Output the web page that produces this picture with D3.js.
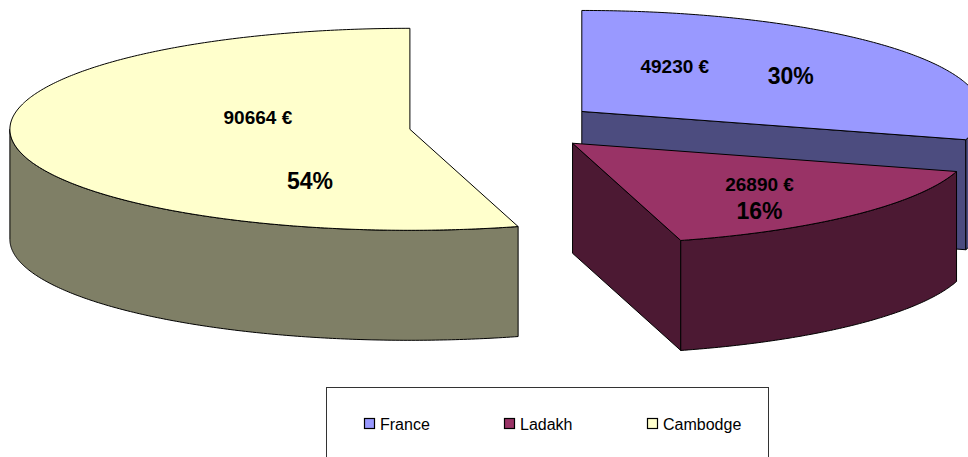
<!DOCTYPE html>
<html>
<head>
<meta charset="utf-8">
<script src="https://cdn.jsdelivr.net/npm/d3@7"></script>
<style>
  body { margin: 0; background: #fff; }
  svg { display: block; font-family: Arial, "Liberation Sans", sans-serif; }
</style>
</head>
<body>
<svg id="chart"></svg>
<script>
// data
const countries = ["France", "Ladakh", "Cambodge"];
const amounts = [49230, 26890, 90664];
const topColors = ["#9999FF", "#993366", "#FFFFCC"];
const sideColors = ["#4C4C7F", "#4C1933", "#7F7F66"];

// layout
const width = 968, height = 457;
const cx = 505, cy = 126;      // pie centre before explosion
const rx = 400, ry = 101;      // ellipse radii of the top face
const depth = 110;             // thickness of the pie
const explode = 0.24;          // explosion as a fraction of radius

// label offsets from each slice apex [value, percent]
const labelOffsets = [
  [[93, -38], [209, -27]],
  [[187, 48], [187, 76]],
  [[-152, -5], [-100, 60]]
];
const legendX = [364, 504, 647];

const svg = d3.select("#chart")
  .attr("width", width)
  .attr("height", height);

svg.append("rect").attr("width", width).attr("height", height).attr("fill", "#fff");

const total = d3.sum(amounts);
const pie = d3.pie().sort(null).value(d => d)
  .startAngle(0).endAngle(2 * Math.PI);
const arcs = pie(amounts);

const line = d3.line();

function pt(ox, oy, a, z) {
  return [ox + rx * Math.sin(a), oy - ry * Math.cos(a) + z];
}
function rim(ox, oy, a0, a1, z) {
  const n = Math.max(2, Math.ceil(Math.abs(a1 - a0) / 0.01));
  return d3.range(n + 1).map(i => pt(ox, oy, a0 + (a1 - a0) * i / n, z));
}

const slices = arcs.map((d, i) => {
  const mid = (d.startAngle + d.endAngle) / 2;
  const ox = cx + explode * rx * Math.sin(mid);
  const oy = cy - explode * ry * Math.cos(mid);
  return { d, i, ox, oy };
});

// back to front: France, Ladakh, Cambodge
const order = [0, 1, 2];

order.forEach(k => {
  const s = slices[k];
  const a0 = s.d.startAngle, a1 = s.d.endAngle;
  const g = svg.append("g");
  const strokeAttr = sel => sel.attr("stroke", "#000").attr("stroke-width", 1)
    .attr("stroke-linejoin", "round");

  // radial faces
  [[a1, Math.sin(a1)], [a0, -Math.sin(a0)]].forEach(([a, vis]) => {
    if (vis > 0.001) {
      const p = pt(s.ox, s.oy, a, 0);
      const poly = [[s.ox, s.oy], p, [p[0], p[1] + depth], [s.ox, s.oy + depth]];
      g.append("path").attr("d", line(poly) + "Z")
        .attr("fill", sideColors[k]).call(strokeAttr);
    }
  });

  // outer curved side (front half only)
  const lo = Math.max(a0, Math.PI / 2), hi = Math.min(a1, 3 * Math.PI / 2);
  if (hi > lo) {
    const pts = rim(s.ox, s.oy, lo, hi, 0).concat(rim(s.ox, s.oy, hi, lo, depth));
    g.append("path").attr("d", line(pts) + "Z")
      .attr("fill", sideColors[k]).call(strokeAttr);
  }

  // top face
  const topPts = [[s.ox, s.oy]].concat(rim(s.ox, s.oy, a0, a1, 0));
  g.append("path").attr("d", line(topPts) + "Z")
    .attr("fill", topColors[k]).call(strokeAttr);
});

// labels
slices.forEach(s => {
  const k = s.i;
  const [vOff, pOff] = labelOffsets[k];
  svg.append("text")
    .attr("x", s.ox + vOff[0]).attr("y", s.oy + vOff[1])
    .attr("text-anchor", "middle")
    .attr("font-weight", "bold").attr("font-size", 19)
    .text(amounts[k] + " €");
  svg.append("text")
    .attr("x", s.ox + pOff[0]).attr("y", s.oy + pOff[1])
    .attr("text-anchor", "middle")
    .attr("font-weight", "bold").attr("font-size", 23)
    .text(Math.round(amounts[k] / total * 100) + "%");
});

// legend
const legend = svg.append("g");
legend.append("rect")
  .attr("x", 326.5).attr("y", 387.5)
  .attr("width", 442).attr("height", 90)
  .attr("fill", "#fff").attr("stroke", "#333").attr("stroke-width", 1);

countries.forEach((c, i) => {
  legend.append("rect")
    .attr("x", legendX[i] + 0.5).attr("y", 418.5)
    .attr("width", 10).attr("height", 10)
    .attr("fill", topColors[i]).attr("stroke", "#000").attr("stroke-width", 1.2);
  legend.append("text")
    .attr("x", legendX[i] + 16).attr("y", 430)
    .attr("font-size", 16)
    .text(c);
});
</script>
</body>
</html>
